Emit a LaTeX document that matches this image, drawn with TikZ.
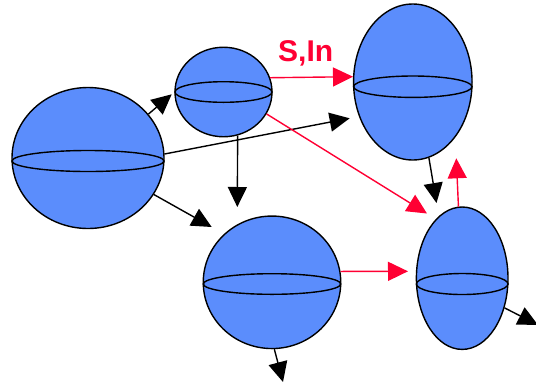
\documentclass[tikz,border=0pt]{standalone}
\usepackage{fontspec}
\setmainfont{Liberation Sans}
\usetikzlibrary{arrows.meta,shapes.geometric}
\definecolor{ballblue}{RGB}{91,141,252}
\definecolor{arrred}{RGB}{255,0,51}
\tikzset{
  ball/.style={ellipse,draw=black,line width=1.4pt,fill=ballblue,inner sep=0pt},
  equat/.style={draw=black,line width=1.4pt},
  blk/.style={draw=black,line width=1.4pt,-{Triangle[length=20pt,width=19pt]}},
  rd/.style={draw=arrred,line width=1.4pt,-{Triangle[length=20pt,width=19pt]}},
}
\begin{document}
\begin{tikzpicture}[x=1pt,y=-1pt]
\useasboundingbox (0,0) rectangle (536,384);
% spheres
\node[ball,minimum width=152pt,minimum height=141pt] (A) at (88,158) {};
\draw[equat] (88,161) ellipse [x radius=76, y radius=10.5];
\node[ball,minimum width=97pt,minimum height=89.5pt] (B) at (223.5,92) {};
\draw[equat] (223.5,92) ellipse [x radius=48.5, y radius=10.3];
\node[ball,minimum width=118.5pt,minimum height=156pt] (C) at (412.8,82) {};
\draw[equat] (412.8,86.7) ellipse [x radius=59.2, y radius=10.7];
\node[ball,minimum width=137.5pt,minimum height=132.5pt] (D) at (272,282.3) {};
\draw[equat] (272,284) ellipse [x radius=68.7, y radius=10.3];
\node[ball,minimum width=91.6pt,minimum height=142.4pt] (E) at (462.2,278.2) {};
\draw[equat] (462.2,284) ellipse [x radius=45.8, y radius=10.5];
% tips
\coordinate (tAB) at (171.7,94.3);
\coordinate (tAC) at (349.7,118.3);
\coordinate (tAD) at (211.7,227);
\coordinate (tBD) at (237.3,207);
\coordinate (tBC) at (353,76.7);
\coordinate (tBE) at (427,213.5);
\coordinate (tDE) at (408,271.3);
\coordinate (tCE) at (436.5,203);
\coordinate (tEC) at (456.3,158.3);
\coordinate (tEo) at (538,325);
\coordinate (tDo) at (283,382);
% arrows
\draw[blk] (A.36) -- (tAB);
\draw[blk] (A.3) -- (tAC);
\draw[blk] (A.-29) -- (tAD);
\draw[blk] (B.-72) -- (tBD);
\draw[rd] (B.17) -- (tBC);
\draw[rd] (B.-27) -- (tBE);
\draw[rd] (D.9) -- (tDE);
\draw[blk] (C.-78) -- (tCE);
\draw[rd] (E.93) -- (tEC);
\draw[blk] (E.-35) -- (tEo);
\draw[blk] (D.-88) -- (tDo);
\node[anchor=base west,inner sep=0pt,text=arrred,font=\fontsize{30pt}{30pt}\selectfont\bfseries] (lbl) at (278,61.7) {S,In};
\end{tikzpicture}
\end{document}
